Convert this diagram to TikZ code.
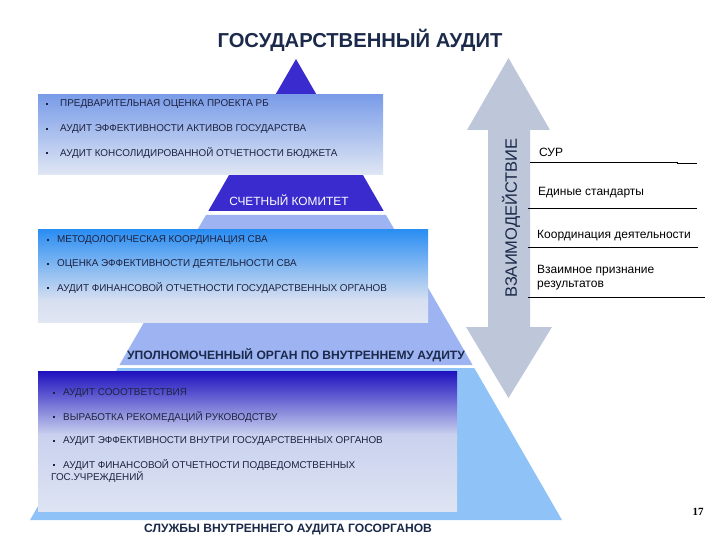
\documentclass[tikz,border=0pt]{standalone}
\usepackage{fontspec}
\setmainfont{Liberation Sans}
\newfontfamily\numfont{Liberation Serif}
\begin{document}
\begin{tikzpicture}[x=1pt,y=-1pt]
\definecolor{darkpy}{HTML}{3A2BCE}
\definecolor{midpy}{HTML}{9DB3F2}
\definecolor{lowpy}{HTML}{8FC3F7}
\definecolor{arrowgrey}{HTML}{BEC7D9}
\definecolor{navy}{HTML}{1B2A4A}
\definecolor{boxtxt}{HTML}{1E2240}
\definecolor{b1top}{HTML}{7A9CE8}
\definecolor{b1bot}{HTML}{E0E7F4}
\definecolor{b2top}{HTML}{2B8EF2}
\definecolor{b2mid}{HTML}{D6DFF1}
\definecolor{b2bot}{HTML}{E0E6F2}
\definecolor{b3top}{HTML}{1E10BE}
\definecolor{b3mid}{HTML}{C9D1EE}
\definecolor{b3bot}{HTML}{DEE4F3}
\tikzset{
  bul/.style={anchor=west, inner sep=0pt, text=boxtxt, font=\fontsize{9.9}{11}\selectfont},
  sq/.style={fill=boxtxt, minimum size=2.6pt, inner sep=0pt},
  lvl/.style={inner sep=0pt, text=navy, font=\bfseries\fontsize{12.1}{14}\selectfont},
  rlab/.style={anchor=west, inner sep=0pt, text=black, font=\fontsize{12}{14.5}\selectfont, align=left},
  rline/.style={draw=black, line width=0.7pt}
}
\useasboundingbox (0,0) rectangle (720,540);
% pyramid layers
\fill[darkpy] (296,59) -- (383.7,211) -- (208.3,211) -- cycle;
\fill[midpy] (206.0,215) -- (386.0,215) -- (472.6,365) -- (119.4,365) -- cycle;
\fill[lowpy] (117.7,368) -- (474.3,368) -- (562,520) -- (30,520) -- cycle;
% box 1
\shade[top color=b1top, bottom color=b1bot] (38,95) rectangle (383,175);
% box 2
\shade[top color=b2top, bottom color=b2mid] (38,230) rectangle (428,300);
\shade[top color=b2mid, bottom color=b2bot] (38,299.5) rectangle (428,322);
% box 3
\shade[top color=b3top, bottom color=b3mid] (38,371) rectangle (457,435);
\shade[top color=b3mid, bottom color=b3bot] (38,434.5) rectangle (457,511);
% double arrow
\fill[arrowgrey] (508.5,58) -- (550,130) -- (530,130) -- (530,327) -- (552,327) -- (508.5,398)
  -- (466,327) -- (488,327) -- (488,130) -- (467,130) -- cycle;
\node[rotate=90, inner sep=0pt, text=navy, font=\fontsize{16.5}{19}\selectfont] (vz) at (511,218) {ВЗАИМОДЕЙСТВИЕ};
% title
\node[inner sep=0pt, text=navy, font=\bfseries\fontsize{20.2}{23}\selectfont] (title) at (360,40) {ГОСУДАРСТВЕННЫЙ АУДИТ};
% box 1 text
\node[sq] (s11) at (47,104) {};
\node[bul] (t11) at (60,104) {ПРЕДВАРИТЕЛЬНАЯ ОЦЕНКА ПРОЕКТА РБ};
\node[sq] (s12) at (47,129) {};
\node[bul] (t12) at (60,129) {АУДИТ ЭФФЕКТИВНОСТИ АКТИВОВ ГОСУДАРСТВА};
\node[sq] (s13) at (47,153) {};
\node[bul] (t13) at (60,153) {АУДИТ КОНСОЛИДИРОВАННОЙ ОТЧЕТНОСТИ БЮДЖЕТА};
% level 1 label
\node[inner sep=0pt, text=white, font=\fontsize{11.9}{13}\selectfont] (sk) at (289,200) {СЧЕТНЫЙ КОМИТЕТ};
% box 2 text
\node[sq] (s21) at (48,240) {};
\node[bul] (t21) at (57,240) {МЕТОДОЛОГИЧЕСКАЯ КООРДИНАЦИЯ СВА};
\node[sq] (s22) at (48,264) {};
\node[bul] (t22) at (57,264) {ОЦЕНКА ЭФФЕКТИВНОСТИ ДЕЯТЕЛЬНОСТИ СВА};
\node[sq] (s23) at (48,288) {};
\node[bul] (t23) at (57,288) {АУДИТ ФИНАНСОВОЙ ОТЧЕТНОСТИ ГОСУДАРСТВЕННЫХ ОРГАНОВ};
% level 2 label
\node[lvl] (upo) at (296,355) {УПОЛНОМОЧЕННЫЙ ОРГАН ПО ВНУТРЕННЕМУ АУДИТУ};
% box 3 text
\node[sq] (s31) at (54,393) {};
\node[bul] (t31) at (63,393) {АУДИТ СОООТВЕТСТВИЯ};
\node[sq] (s32) at (54,417) {};
\node[bul] (t32) at (63,417) {ВЫРАБОТКА РЕКОМЕДАЦИЙ РУКОВОДСТВУ};
\node[sq] (s33) at (54,441) {};
\node[bul] (t33) at (63,441) {АУДИТ ЭФФЕКТИВНОСТИ ВНУТРИ ГОСУДАРСТВЕННЫХ ОРГАНОВ};
\node[sq] (s34) at (54,465) {};
\node[bul] (t34) at (63,465) {АУДИТ ФИНАНСОВОЙ ОТЧЕТНОСТИ ПОДВЕДОМСТВЕННЫХ};
\node[bul] (t35) at (51,477) {ГОС.УЧРЕЖДЕНИЙ};
% level 3 label
\node[lvl] (sl) at (288,529) {СЛУЖБЫ ВНУТРЕННЕГО АУДИТА ГОСОРГАНОВ};
% right labels
\node[rlab] (r1) at (539,152) {СУР};
\draw[rline] (530,162.5) -- (677,162.5) -- (677,163.2) -- (697,163.2);
\node[rlab] (r2) at (538,193) {Единые стандарты};
\draw[rline] (528,208) -- (697,208);
\node[rlab] (r3) at (537,236) {Координация деятельности};
\draw[rline] (528,247) -- (698,247);
\node[rlab] (r4) at (537,277.5) {Взаимное признание\\результатов};
\draw[rline] (528,297) -- (705,297);
% page number
\node[inner sep=0pt, font=\numfont\bfseries\fontsize{11}{13}\selectfont] (pg) at (698,512) {17};
\end{tikzpicture}
\end{document}
